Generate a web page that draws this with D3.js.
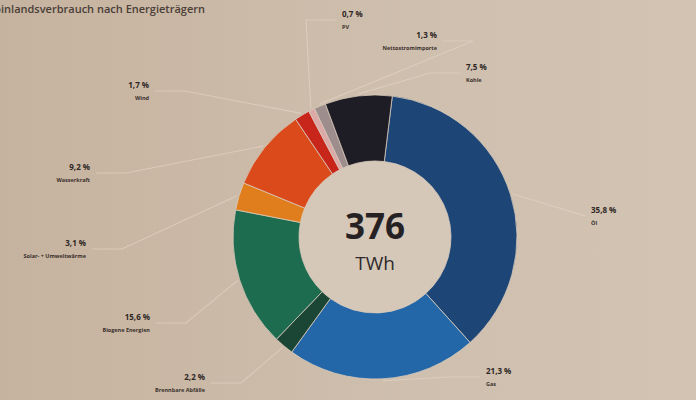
<!DOCTYPE html>
<html><head><meta charset="utf-8">
<script src="https://cdn.jsdelivr.net/npm/d3@7"></script>
<style>
html,body{margin:0;padding:0;background:#cdbba8;}
svg{display:block;font-family:"Open Sans","Noto Sans",sans-serif;}
</style></head>
<body><svg id="c" width="696" height="400"></svg>
<script>
const categories = ["Öl","Gas","Brennbare Abfälle","Biogene Energien","Solar- + Umweltwärme","Wasserkraft","Wind","PV","Nettostromimporte","Kohle"];
const shares = [35.8, 21.3, 2.2, 15.6, 3.1, 9.2, 1.7, 0.7, 1.3, 7.5];
const shareLabels = ["35,8 %","21,3 %","2,2 %","15,6 %","3,1 %","9,2 %","1,7 %","0,7 %","1,3 %","7,5 %"];
const totalLabel = "376";
const unitLabel = "TWh";
const title = "Bruttoinlandsverbrauch nach Energieträgern";

const colors = ["#1d4677","#2467a8","#1b4636","#1e6c4f","#e07d1c","#db4a1a","#c9261b","#dca9a6","#9d8d8c","#1e1d26"];
const labelPos = [
  [591,213,"start"],[486,374,"start"],[205,380,"end"],[150,320,"end"],[86,246,"end"],
  [90,170,"end"],[149,88,"end"],[342,17,"start"],[437,38,"end"],[466,70,"start"]
];

const svg = d3.select("#c");
const defs = svg.append("defs");
const g0 = defs.append("linearGradient").attr("id","bg").attr("x1",0).attr("x2",1).attr("y1",0).attr("y2",0);
g0.append("stop").attr("offset","0%").attr("stop-color","#c6b39f");
g0.append("stop").attr("offset","60%").attr("stop-color","#cfbfae");
g0.append("stop").attr("offset","100%").attr("stop-color","#d3c3b2");
svg.append("rect").attr("width",696).attr("height",400).attr("fill","url(#bg)");

svg.append("text").attr("x",205).attr("y",13).attr("text-anchor","end")
  .attr("font-size",11).attr("font-weight",600).attr("fill","#4a3e38").text(title);

const cx = 375, cy = 237, R = 142, r = 76;
const a0 = 7 * Math.PI/180;
const pie = d3.pie().sort(null).value(d=>d).startAngle(a0).endAngle(a0+2*Math.PI);
const arcs = pie(shares);
const arc = d3.arc().innerRadius(r).outerRadius(R);
const g = svg.append("g").attr("transform",`translate(${cx},${cy})`);

g.append("circle").attr("r",r).attr("fill","#d6c8b8");

const lg = svg.append("g");
arcs.forEach((a,i)=>{
  const mid = (a.startAngle+a.endAngle)/2;
  const px = cx + Math.sin(mid)*(R+2), py = cy - Math.cos(mid)*(R+2);
  const [lx,ly,anc] = labelPos[i];
  const ex = anc==="start" ? lx-6 : lx+6;
  const ey = ly+3;
  const pts = i===0 ? [[px,py],[ex,ey]] : [[ex,ey],[ex + (anc==="start"?-30:30), ey],[px,py]];
  lg.append("path").attr("d",d3.line()(pts)).attr("fill","none")
    .attr("stroke","#e2d3c4").attr("stroke-width",1.1).attr("opacity",0.7);
});

g.selectAll("path.s").data(arcs).join("path").attr("class","s")
  .attr("d",arc).attr("fill",(d,i)=>colors[i])
  .attr("stroke","#d8cabb").attr("stroke-width",0.8);

g.append("text").attr("y",2).attr("text-anchor","middle").attr("font-size",35)
  .attr("font-weight",700).attr("fill","#262224").text(totalLabel);
g.append("text").attr("y",33).attr("text-anchor","middle").attr("font-size",19)
  .attr("fill","#2f2a2b").text(unitLabel);

const tg = svg.append("g");
categories.forEach((c,i)=>{
  const [lx,ly,anc] = labelPos[i];
  tg.append("text").attr("x",lx).attr("y",ly).attr("text-anchor",anc)
    .attr("font-size",8).attr("font-weight",700).attr("fill","#2e2624").text(shareLabels[i]);
  tg.append("text").attr("x",lx).attr("y",ly+12).attr("text-anchor",anc)
    .attr("font-size",5.5).attr("font-weight",700).attr("fill","#3a302c").text(c);
});
</script></body></html>
